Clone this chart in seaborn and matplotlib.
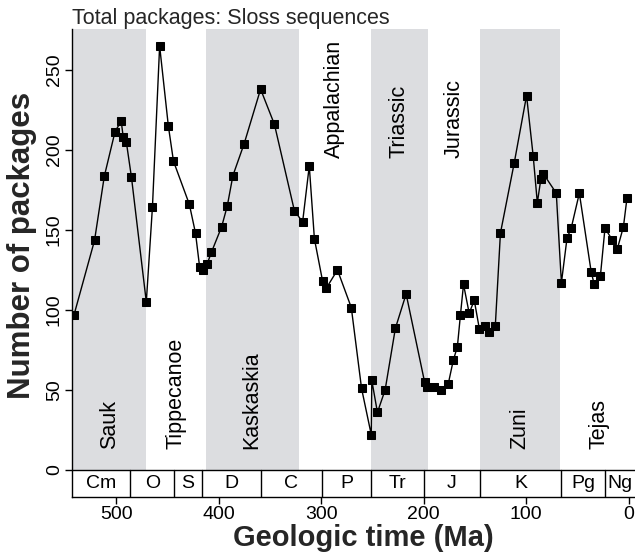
import matplotlib
matplotlib.use("Agg")
import matplotlib.pyplot as plt
import seaborn as sns
import pandas as pd

# ---- data ----
ages = [541, 521, 511.5, 501, 495, 493, 490, 485, 470.5, 464.5, 457.5, 449, 444,
        428.5, 422.5, 418.5, 415.5, 411, 407, 397, 391.5, 386, 375, 359, 345.5,
        326, 318, 311.5, 306.5, 298.5, 295, 284, 270.5, 260.5, 251, 250.5, 245,
        237.5, 227.5, 217, 199, 196.5, 189.5, 182.5, 176, 171, 167, 164, 161,
        155.5, 150.5, 145.5, 140, 136, 130, 125, 111.5, 99.5, 93, 89, 85.5, 83,
        70.5, 65.5, 60, 56, 48, 36.5, 33.5, 27.5, 23, 16, 11, 5, 1.5]
packages = [97, 143.5, 183.5, 211.5, 218, 208, 205, 183, 105, 164.5, 265, 215, 193,
            166, 148, 127, 125, 129, 136, 152, 165, 184, 204, 238, 216,
            162, 155, 190, 144.5, 118, 113.5, 125, 101.5, 51, 22, 56, 36,
            50, 88.5, 110, 55, 52, 52, 50, 53.5, 68.5, 77, 97, 116,
            98, 106, 88, 90, 86, 90, 148, 192, 234, 196, 167, 182, 185,
            173, 117, 145, 151, 173, 124, 116, 121, 151, 144, 138, 152, 170]

sequence_names = ["Sauk", "Tippecanoe", "Kaskaskia", "Appalachian", "Triassic",
                  "Jurassic", "Zuni", "Tejas"]
sequence_bounds = [543, 470.5, 412.7, 322, 251, 196, 145, 67, -6.3]
sequence_label_top = [False, False, False, True, True, True, False, False]

period_names = ["Cm", "O", "S", "D", "C", "P", "Tr", "J", "K", "Pg", "Ng"]
period_bounds = [543, 486, 443.5, 416.5, 359, 299, 251.5, 200, 145, 65.5, 22.5, -6.3]

x_ticks = [500, 400, 300, 200, 100, 0]
y_ticks = [0, 50, 100, 150, 200, 250]

sns.set_theme(style="ticks")
plt.rcParams["font.family"] = ["Liberation Sans", "DejaVu Sans"]

fig = plt.figure(figsize=(6.35, 5.58), dpi=100)
ax = fig.add_axes([72 / 635, 1 - 497 / 558, 1 - 72 / 635, (497 - 29) / 558])

xlim = (543, -6.3)
ylim = (-16.9, 275.6)
gray = "#dcdde0"

# sequence bands and labels
for i, name in enumerate(sequence_names):
    x1, x2 = sequence_bounds[i], sequence_bounds[i + 1]
    if i % 2 == 0:
        ax.fill_betweenx([0, ylim[1]], x1, x2, color=gray, lw=0, zorder=0)
    xc = (x1 + x2) / 2
    if name == "Tejas":
        xc = 29
    yb = 195 if sequence_label_top[i] else 13
    ax.text(xc, yb, name, rotation=90, ha="center", va="bottom", fontsize=15.5,
            color="black", zorder=3)

# period boxes
ax.axhline(0, color="black", lw=1, zorder=4)
for b in period_bounds[1:-1]:
    ax.plot([b, b], [ylim[0], 0], color="black", lw=1, zorder=4)
for i, name in enumerate(period_names):
    x1, x2 = period_bounds[i], period_bounds[i + 1]
    ax.text((x1 + x2) / 2, -8.5, name, ha="center", va="center", fontsize=14,
            color="black", zorder=5)

df = pd.DataFrame({"age": ages, "packages": packages})
sns.lineplot(data=df, x="age", y="packages", sort=False, estimator=None,
             color="black", lw=1.0, marker="s", markersize=5.2,
             markeredgecolor="black", markerfacecolor="black", ax=ax, zorder=6)

ax.set_xlim(*xlim)
ax.set_ylim(*ylim)
ax.set_xticks(x_ticks)
ax.set_yticks(y_ticks)
ax.tick_params(axis="both", direction="out", length=5, width=1, color="black",
               labelsize=14, labelcolor="black", pad=1.5)
for lab in ax.get_yticklabels():
    lab.set_rotation(90)
    lab.set_va("center")
for s in ["top", "right"]:
    ax.spines[s].set_visible(False)
for s in ["left", "bottom"]:
    ax.spines[s].set_color("black")
    ax.spines[s].set_linewidth(1)

ax.set_xlabel("Geologic time (Ma)", fontsize=21, fontweight="bold")
ax.set_ylabel("Number of packages", fontsize=22.5, fontweight="bold")
ax.xaxis.set_label_coords((363 - 72) / 563, (497 - 538) / 468)
ax.yaxis.set_label_coords((22 - 72) / 563, (497 - 245) / 468)
ax.xaxis.label.set_va("center")
ax.yaxis.label.set_va("center")

ax.text(0, 1.0, "Total packages: Sloss sequences", transform=ax.transAxes,
        ha="left", va="bottom", fontsize=15.5)

fig.savefig("out.png", dpi=100)
